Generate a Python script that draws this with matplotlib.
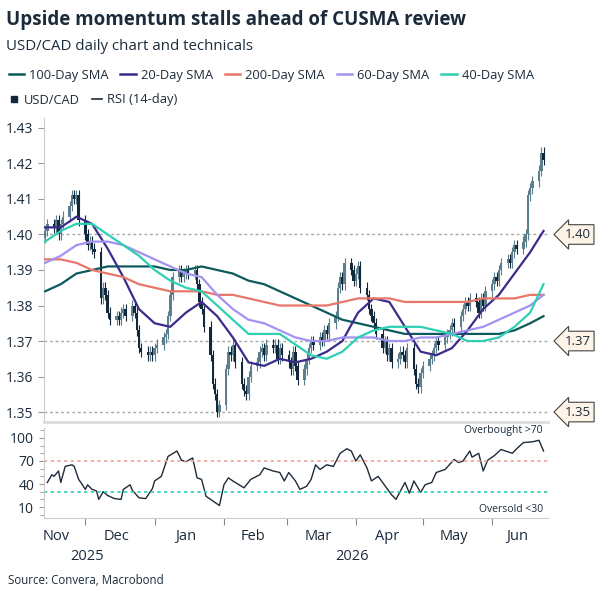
import matplotlib
matplotlib.use('Agg')
import matplotlib.pyplot as plt
import matplotlib.dates as mdates
from matplotlib.lines import Line2D
from matplotlib.ticker import MultipleLocator
import numpy as np
import pandas as pd

matplotlib.rcParams['font.family'] = ['Open Sans', 'DejaVu Sans']
matplotlib.rcParams['font.size'] = 10

TXT = '#1b2b3b'

# daily USD/CAD closes, business days from 2025-11-13
closes = [
    1.401, 1.403,
    1.402, 1.404, 1.400, 1.403, 1.405,
    1.408, 1.411, 1.410, 1.411, 1.404,
    1.400, 1.397, 1.398, 1.396, 1.395,
    1.382, 1.385, 1.383, 1.378, 1.376,
    1.377, 1.376, 1.378, 1.379, 1.377,
    1.380, 1.378, 1.373, 1.368, 1.367,
    1.366, 1.367, 1.366, 1.368, 1.369,
    1.371, 1.372, 1.377, 1.383, 1.388,
    1.390, 1.388, 1.389, 1.390, 1.389,
    1.390, 1.386, 1.381, 1.379, 1.374,
    1.366, 1.358, 1.355, 1.350, 1.352,
    1.362, 1.367, 1.366, 1.369, 1.364,
    1.358, 1.356, 1.355, 1.360, 1.363,
    1.364, 1.367, 1.368, 1.366, 1.369,
    1.368, 1.369, 1.365, 1.368, 1.366,
    1.364, 1.362, 1.367, 1.363, 1.359,
    1.362, 1.365, 1.368, 1.370, 1.369,
    1.371, 1.370, 1.373, 1.372, 1.375,
    1.377, 1.385, 1.388, 1.386, 1.392,
    1.390, 1.387, 1.389, 1.391, 1.385,
    1.383, 1.379, 1.377, 1.375, 1.372,
    1.368, 1.370, 1.366, 1.368, 1.364,
    1.365, 1.367, 1.366, 1.364, 1.368,
    1.362, 1.358, 1.357, 1.361, 1.363,
    1.365, 1.366, 1.368, 1.370, 1.369,
    1.371, 1.372, 1.373, 1.375, 1.374,
    1.377, 1.379, 1.381, 1.380, 1.382,
    1.381, 1.378, 1.382, 1.380, 1.384,
    1.386, 1.388, 1.387, 1.390, 1.392,
    1.393, 1.392, 1.395, 1.397, 1.396,
    1.398, 1.400, 1.411, 1.413, 1.415,
    1.418, 1.423, 1.421,
]
first_open = 1.399

# moving averages, weekly readings from 2025-11-13
sma20 = [1.402, 1.402, 1.405, 1.403, 1.396, 1.388, 1.379, 1.375, 1.374, 1.378, 1.381, 1.377,
         1.371, 1.364, 1.363, 1.365, 1.364, 1.365, 1.367, 1.370, 1.378, 1.382, 1.381, 1.374,
         1.367, 1.366, 1.368, 1.373, 1.379, 1.383, 1.389, 1.395, 1.401]
sma40 = [1.398, 1.401, 1.403, 1.403, 1.400, 1.397, 1.394, 1.390, 1.387, 1.385, 1.384, 1.380,
         1.376, 1.372, 1.372, 1.372, 1.369, 1.366, 1.365, 1.367, 1.371, 1.373, 1.374, 1.374,
         1.374, 1.373, 1.372, 1.370, 1.370, 1.371, 1.374, 1.378, 1.386]
sma60 = [1.392, 1.394, 1.397, 1.398, 1.398, 1.397, 1.395, 1.393, 1.391, 1.389, 1.388, 1.383,
         1.379, 1.376, 1.375, 1.373, 1.371, 1.370, 1.370, 1.371, 1.371, 1.371, 1.370, 1.370,
         1.371, 1.371, 1.372, 1.373, 1.374, 1.376, 1.378, 1.380, 1.383]
sma100 = [1.384, 1.386, 1.389, 1.390, 1.391, 1.391, 1.391, 1.391, 1.390, 1.390, 1.391, 1.390,
          1.389, 1.387, 1.386, 1.384, 1.382, 1.380, 1.378, 1.376, 1.375, 1.374, 1.373, 1.372,
          1.372, 1.372, 1.372, 1.372, 1.372, 1.372, 1.373, 1.375, 1.377]
sma200 = [1.393, 1.393, 1.392, 1.390, 1.389, 1.388, 1.386, 1.385, 1.384, 1.384, 1.384, 1.383,
          1.383, 1.382, 1.381, 1.380, 1.380, 1.380, 1.380, 1.381, 1.382, 1.382, 1.382, 1.381,
          1.381, 1.381, 1.381, 1.381, 1.382, 1.382, 1.382, 1.383, 1.383]

# RSI (14-day): calendar-day offset from 2025-11-13, value
rsi_days = [1, 3, 4, 6, 7, 9, 12, 13, 15, 16, 18, 19, 21, 23, 24, 26, 28, 31, 34, 35, 38, 39,
            42, 45, 48, 49, 52, 55, 59, 61, 63, 66, 68, 70, 72, 75, 78, 80, 82, 84, 89, 92,
            96, 98, 102, 105, 107, 109, 112, 114, 117, 119, 121, 123, 126, 129, 132, 135, 137,
            139, 141, 144, 146, 149, 151, 155, 157, 159, 161, 163, 165, 168, 170, 173, 175,
            179, 183, 185, 187, 190, 191, 194, 196, 198, 201, 204, 209, 211, 214, 218, 221, 223]
rsi_vals = [42, 52, 50, 57, 42, 63, 65, 63, 46, 42, 33, 39, 33, 31, 20, 30, 25, 21, 20, 33, 39, 32,
            22, 21, 34, 44, 50, 76, 83, 71, 69, 74, 48, 46, 24, 18, 12, 39, 48, 44, 35, 46,
            52, 61, 57, 55, 44, 55, 44, 33, 37, 46, 65, 59, 65, 63, 80, 86, 83,
            70, 78, 61, 44, 50, 42, 26, 20, 31, 42, 28, 44, 29, 39, 42, 55,
            59, 72, 68, 70, 83, 75, 80, 57, 71, 77, 85, 80, 86, 94, 95, 97, 83]

levels = [1.40, 1.37, 1.35]
month_labels = ['Nov', 'Dec', 'Jan', 'Feb', 'Mar', 'Apr', 'May', 'Jun']
month_label_dates = ['2025-11-18', '2025-12-15', '2026-01-15', '2026-02-14',
                     '2026-03-15', '2026-04-15', '2026-05-15', '2026-06-12']
month_bounds = ['2025-12-01', '2026-01-01', '2026-02-01', '2026-03-01',
                '2026-04-01', '2026-05-01', '2026-06-01']

start = pd.Timestamp('2025-11-13')
dates = pd.bdate_range(start, periods=len(closes))
weeks = pd.date_range(start, periods=len(sma20), freq='7D')
weeks = weeks.where(weeks <= dates[-1], dates[-1])
rsi_dates = start + pd.to_timedelta(rsi_days, unit='D')

fig = plt.figure(figsize=(6.01, 6.01), dpi=100)
ax = fig.add_axes([44 / 601, 1 - 422 / 601, 504 / 601, 304 / 601])
ax2 = fig.add_axes([44 / 601, 1 - 518 / 601, 504 / 601, 90 / 601])

# candles
opens = [first_open] + closes[:-1]
xd = mdates.date2num(dates)
for x, o, c in zip(xd, opens, closes):
    col = '#5b7f8c' if c >= o else '#14283c'
    lo, hi = min(o, c), max(o, c)
    ax.vlines(x, lo - 0.0015, hi + 0.0015, color=col, lw=0.8, zorder=3)
    ax.bar(x, max(hi - lo, 0.0003), bottom=lo, width=1.1, color=col, zorder=3)

sma_styles = [
    ('100-Day SMA', sma100, '#0d5a5c'),
    ('20-Day SMA', sma20, '#3b2c8c'),
    ('200-Day SMA', sma200, '#e8766a'),
    ('60-Day SMA', sma60, '#a392f2'),
    ('40-Day SMA', sma40, '#2fd0b2'),
]
for name, vals, col in sma_styles:
    ax.plot(weeks, vals, color=col, lw=1.6, zorder=4, label=name)

xmin, xmax = start - pd.Timedelta(days=0.5), pd.Timestamp('2026-06-26')
for lv in levels:
    ax.axhline(lv, color='#a8a8a8', ls=(0, (2, 2)), lw=1, zorder=1)
    ax.annotate(f'{lv:.2f}', xy=(1.0, lv), xycoords=('axes fraction', 'data'),
                xytext=(12, 0), textcoords='offset points', va='center', ha='left',
                color=TXT, fontsize=9.5, annotation_clip=False,
                bbox=dict(boxstyle='larrow,pad=0.25', fc='#fdf3e6', ec='#444444', lw=0.8))

ax.set_ylim(1.3472, 1.4328)
ax.set_xlim(xmin, xmax)
ax.set_yticks(np.arange(1.35, 1.4301, 0.01))
ax.yaxis.set_major_formatter(matplotlib.ticker.FormatStrFormatter('%.2f'))
ax.tick_params(axis='y', colors=TXT, labelsize=10, length=4, color='#999999')
ax.set_xticks([])
for s in ['top', 'right']:
    ax.spines[s].set_visible(False)
ax.spines['left'].set_color('#cccccc')
ax.spines['bottom'].set_color('#dddddd')
ax.spines['bottom'].set_linewidth(2)

# RSI panel
ax2.plot(rsi_dates, rsi_vals, color='#1d2b3a', lw=1)
ax2.axhline(70, color='#f0a49c', ls=(0, (2, 2)), lw=1.2)
ax2.axhline(30, color='#2fd0b2', ls=(0, (2, 2)), lw=1.2)
ax2.set_ylim(-4.3, 113)
ax2.set_xlim(xmin, xmax)
ax2.set_yticks([10, 40, 70, 100])
ax2.yaxis.set_minor_locator(MultipleLocator(10))
ax2.tick_params(axis='y', which='both', colors=TXT, labelsize=10, color='#999999')
ax2.tick_params(axis='y', which='minor', length=3)
ax2.text(0.99, 0.97, 'Overbought >70', transform=ax2.transAxes, ha='right', va='center',
         fontsize=7.5, color=TXT)
ax2.text(0.99, 0.09, 'Oversold <30', transform=ax2.transAxes, ha='right', va='center',
         fontsize=7.5, color=TXT)
for s in ['top', 'right']:
    ax2.spines[s].set_visible(False)
ax2.spines['left'].set_color('#cccccc')
ax2.spines['bottom'].set_color('#cccccc')

ax2.set_xticks(pd.to_datetime(month_bounds))
ax2.set_xticklabels([])
ax2.tick_params(axis='x', which='major', length=5, color='#888888')
ax2.set_xticks(pd.to_datetime(month_label_dates), minor=True)
ax2.set_xticklabels(month_labels, minor=True)
ax2.tick_params(axis='x', which='minor', length=0, labelsize=10.5, colors=TXT, pad=8)

fig.text(87 / 601, 1 - 556 / 601, '2025', ha='center', va='center', fontsize=10.5, color=TXT)
fig.text(352 / 601, 1 - 556 / 601, '2026', ha='center', va='center', fontsize=10.5, color=TXT)

# titles and legends
fig.text(6 / 601, 1 - 20 / 601, 'Upside momentum stalls ahead of CUSMA review', fontsize=13.5,
         fontweight='bold', color=TXT, va='center')
fig.text(6 / 601, 1 - 46 / 601, 'USD/CAD daily chart and technicals', fontsize=10.8,
         color=TXT, va='center')
h1 = [Line2D([], [], color=c, lw=1.8) for _, _, c in sma_styles]
fig.legend(h1, [n for n, _, _ in sma_styles], loc='center left',
           bbox_to_anchor=(-0.005, 1 - 75 / 601), ncol=5, frameon=False, fontsize=9.3,
           handlelength=1.2, handletextpad=0.4, columnspacing=0.9, labelcolor=TXT)
h2 = [Line2D([], [], color='#14283c', marker='s', ms=5, lw=0),
      Line2D([], [], color='#1d2b3a', lw=1.2)]
fig.legend(h2, ['USD/CAD', 'RSI (14-day)'], loc='center left',
           bbox_to_anchor=(-0.005, 1 - 100 / 601), ncol=2, frameon=False, fontsize=9.3,
           handlelength=0.8, handletextpad=0.4, columnspacing=0.9, labelcolor=TXT)
fig.text(8 / 601, 1 - 580 / 601, 'Source: Convera, Macrobond', fontsize=8.3, color=TXT,
         va='center')

fig.savefig('out.png', dpi=100)
